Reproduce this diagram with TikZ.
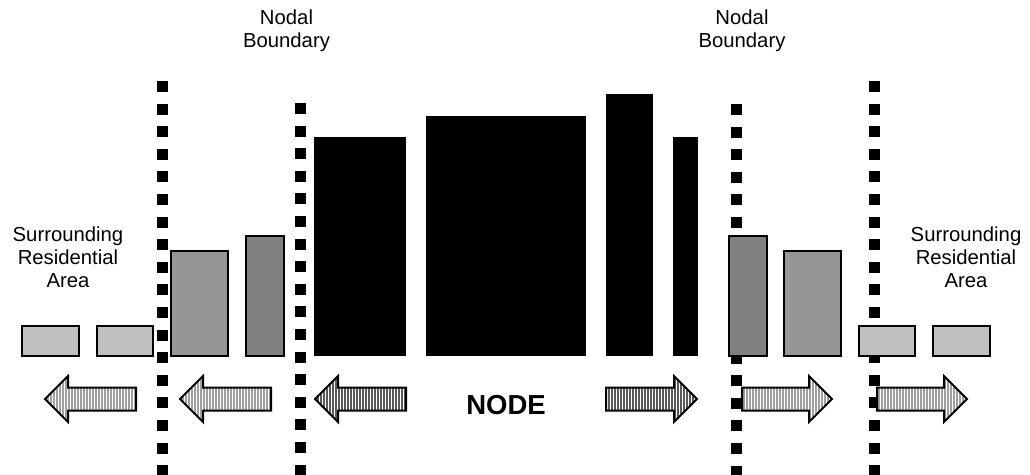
\documentclass[tikz,border=0pt]{standalone}
\usepackage{fontspec}
\setmainfont{Liberation Sans}
\usetikzlibrary{patterns.meta}

\definecolor{lightgr}{HTML}{C0C0C0}
\definecolor{midgr}{HTML}{969696}
\definecolor{darkgr}{HTML}{808080}

\begin{document}
\begin{tikzpicture}[x=1pt,y=-1pt,
  lbl/.style={font=\fontsize{20.3}{23}\selectfont, align=center, inner sep=0pt, anchor=north},
  boundary/.style={line width=11pt, dash pattern=on 11pt off 11.6pt},
  bldg/.style={draw=black, line width=1.5pt, inner sep=0pt, outer sep=0pt},
  lightbox/.style={bldg, fill=lightgr},
  midbox/.style={bldg, fill=midgr},
  darkbox/.style={bldg, fill=darkgr},
  blackbox/.style={fill=black, inner sep=0pt, outer sep=0pt},
  flow/.style={draw=black, line width=2pt, line join=miter, fill=white,
    pattern={Lines[angle=90, distance=3pt, line width=1.4pt]}, pattern color=gray!75},
  flowdark/.style={flow, pattern color=black!65},
]
\useasboundingbox (0,0) rectangle (1030,474);
\clip (0,0) rectangle (1030,474);

% nodal boundaries (dotted lines)
\coordinate (b1t) at (162,81);  \coordinate (b1b) at (162,490);
\coordinate (b2t) at (300,103); \coordinate (b2b) at (300,490);
\coordinate (b3t) at (736.5,104); \coordinate (b3b) at (736.5,490);
\coordinate (b4t) at (874.5,81); \coordinate (b4b) at (874.5,490);
\draw[boundary] (b1t) -- (b1b);
\draw[boundary] (b2t) -- (b2b);
\draw[boundary] (b3t) -- (b3b);
\draw[boundary] (b4t) -- (b4b);

% labels
\node[lbl] (nbl) at (286.5,10) {Nodal\\Boundary};
\node[lbl] (nbr) at (742,10) {Nodal\\Boundary};
\node[lbl] (sral) at (68,227) {Surrounding\\Residential\\Area};
\node[lbl] (srar) at (966,227) {Surrounding\\Residential\\Area};
\node[font=\fontsize{27.5}{30}\bfseries, inner sep=0pt] (node) at (506,405) {NODE};

% surrounding buildings, left side
\node[lightbox, minimum width=57pt, minimum height=30pt] (l1) at (50.5,341) {};
\node[lightbox, minimum width=56pt, minimum height=30pt] (l2) at (125,341) {};
\node[midbox, minimum width=57pt, minimum height=105pt] (l3) at (199.5,303.5) {};
\node[darkbox, minimum width=38pt, minimum height=120pt] (l4) at (265,296) {};

% node core
\node[blackbox, minimum width=92pt, minimum height=219pt] (c1) at (360,246.5) {};
\node[blackbox, minimum width=160pt, minimum height=240pt] (c2) at (506,236) {};
\node[blackbox, minimum width=47pt, minimum height=262pt] (c3) at (629.5,225) {};
\node[blackbox, minimum width=25pt, minimum height=219pt] (c4) at (685.5,246.5) {};

% surrounding buildings, right side
\node[darkbox, minimum width=38pt, minimum height=120pt] (r1) at (748,296) {};
\node[midbox, minimum width=57pt, minimum height=105pt] (r2) at (812.5,303.5) {};
\node[lightbox, minimum width=56pt, minimum height=30pt] (r3) at (887,341) {};
\node[lightbox, minimum width=57pt, minimum height=30pt] (r4) at (961.5,341) {};

% outward flow arrows, left
\draw[flow] (45,399) -- (68,376) -- (68,387.5) -- (136,387.5) -- (136,410.5) -- (68,410.5) -- (68,422) -- cycle;
\draw[flow] (180,399) -- (203,376) -- (203,387.5) -- (271,387.5) -- (271,410.5) -- (203,410.5) -- (203,422) -- cycle;
\draw[flowdark] (315,399) -- (338,376) -- (338,387.5) -- (406,387.5) -- (406,410.5) -- (338,410.5) -- (338,422) -- cycle;

% outward flow arrows, right
\draw[flowdark] (697,399) -- (674,376) -- (674,387.5) -- (606,387.5) -- (606,410.5) -- (674,410.5) -- (674,422) -- cycle;
\draw[flow] (832,399) -- (809,376) -- (809,387.5) -- (742,387.5) -- (742,410.5) -- (809,410.5) -- (809,422) -- cycle;
\draw[flow] (967,399) -- (944,376) -- (944,387.5) -- (877,387.5) -- (877,410.5) -- (944,410.5) -- (944,422) -- cycle;
\end{tikzpicture}
\end{document}
